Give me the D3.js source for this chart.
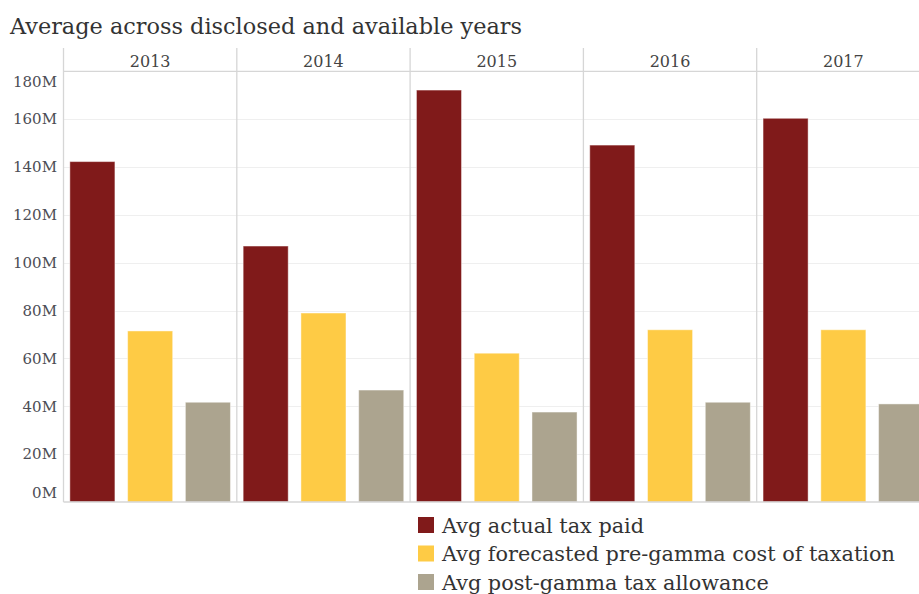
<!DOCTYPE html>
<html>
<head>
<meta charset="utf-8">
<script src="https://cdn.jsdelivr.net/npm/d3@7"></script>
<style>
  html, body { margin: 0; padding: 0; background: #fff; overflow: hidden; }
  svg { display: block; }
  text { font-family: "DejaVu Serif", Georgia, serif; }
</style>
</head>
<body>
<svg id="chart" width="919" height="594"></svg>
<script>
// Years shown as column panels
const years = ["2013", "2014", "2015", "2016", "2017"];

// Series (values in millions)
const seriesNames = [
  "Avg actual tax paid",
  "Avg forecasted pre-gamma cost of taxation",
  "Avg post-gamma tax allowance"
];
const actualTaxPaid      = [142.3, 107.0, 172.2, 149.2, 160.4];
const preGammaCost       = [71.5, 79.0, 62.2, 72.0, 72.0];
const postGammaAllowance = [41.7, 46.8, 37.6, 41.7, 41.0];

// Axis ticks
const tickValues = [0, 20, 40, 60, 80, 100, 120, 140, 160, 180];
const tickLabels = ["0M", "20M", "40M", "60M", "80M", "100M", "120M", "140M", "160M", "180M"];

const colors = ["#801a1a", "#fecb45", "#aca48f"];
const seriesValues = [actualTaxPaid, preGammaCost, postGammaAllowance];

const svg = d3.select("#chart");

const left = 63.5, panelW = 173.3;
const headerTop = 48, headerBottom = 71.4, plotBottom = 502;

const x = d3.scaleBand().domain(years).range([left, left + panelW * years.length]).padding(0);
const xs = d3.scaleBand().domain(d3.range(seriesNames.length))
  .range([0, x.bandwidth()]).paddingInner(0.22).paddingOuter(0.11);
const y = d3.scaleLinear().domain([0, 180]).range([plotBottom, headerTop + 23.4]);

// Title
svg.append("text")
  .attr("x", 10).attr("y", 34)
  .attr("font-size", 22.4)
  .attr("fill", "#333")
  .text("Average across disclosed and available years");

// Gridlines
svg.append("g").selectAll("line")
  .data(tickValues.filter(d => d > 0 && d < 180))
  .join("line")
  .attr("x1", left).attr("x2", 919)
  .attr("y1", d => Math.round(y(d)) + 0.5).attr("y2", d => Math.round(y(d)) + 0.5)
  .attr("stroke", "#efefef").attr("stroke-width", 1);

// Bars
const data = [];
years.forEach((yr, i) => seriesValues.forEach((vals, s) => data.push({ yr, s, v: vals[i] })));

svg.append("g").selectAll("rect")
  .data(data)
  .join("rect")
  .attr("x", d => x(d.yr) + xs(d.s))
  .attr("width", xs.bandwidth())
  .attr("y", d => y(d.v))
  .attr("height", d => y(0) - y(d.v))
  .attr("fill", d => colors[d.s])
  .attr("stroke", "rgba(255,255,255,0.45)")
  .attr("stroke-width", 1);

// Panel dividers and header
const frame = svg.append("g").attr("stroke", "#d6d6d6").attr("stroke-width", 1.3);
frame.selectAll("line.div")
  .data(years)
  .join("line")
  .attr("class", "div")
  .attr("x1", d => x(d)).attr("x2", d => x(d))
  .attr("y1", headerTop).attr("y2", plotBottom);
frame.append("line")
  .attr("x1", left).attr("x2", 919)
  .attr("y1", headerBottom).attr("y2", headerBottom);
frame.append("line")
  .attr("x1", left).attr("x2", 919)
  .attr("y1", plotBottom).attr("y2", plotBottom);

// Year headers
svg.append("g").selectAll("text")
  .data(years)
  .join("text")
  .attr("x", d => x(d) + x.bandwidth() / 2)
  .attr("y", 67)
  .attr("text-anchor", "middle")
  .attr("font-size", 16)
  .attr("fill", "#444")
  .text(d => d);

// Y axis labels (end labels nudged inside the plot)
svg.append("g").selectAll("text")
  .data(tickValues)
  .join("text")
  .attr("x", 57)
  .attr("y", (d, i) => y(d) + (d === 0 ? -9 : d === 180 ? 10 : 0))
  .attr("dy", "0.35em")
  .attr("text-anchor", "end")
  .attr("font-size", 15)
  .attr("fill", "#4d4d55")
  .text((d, i) => tickLabels[i]);

// Legend
const legend = svg.append("g").attr("transform", "translate(418,517)");
const items = legend.selectAll("g")
  .data(seriesNames)
  .join("g")
  .attr("transform", (d, i) => `translate(0,${i * 28.5})`);
items.append("rect")
  .attr("width", 16).attr("height", 16)
  .attr("fill", (d, i) => colors[i]);
items.append("text")
  .attr("x", 24).attr("y", 8)
  .attr("dy", "0.38em")
  .attr("font-size", 20.8)
  .attr("fill", "#333")
  .text(d => d);
</script>
</body>
</html>
